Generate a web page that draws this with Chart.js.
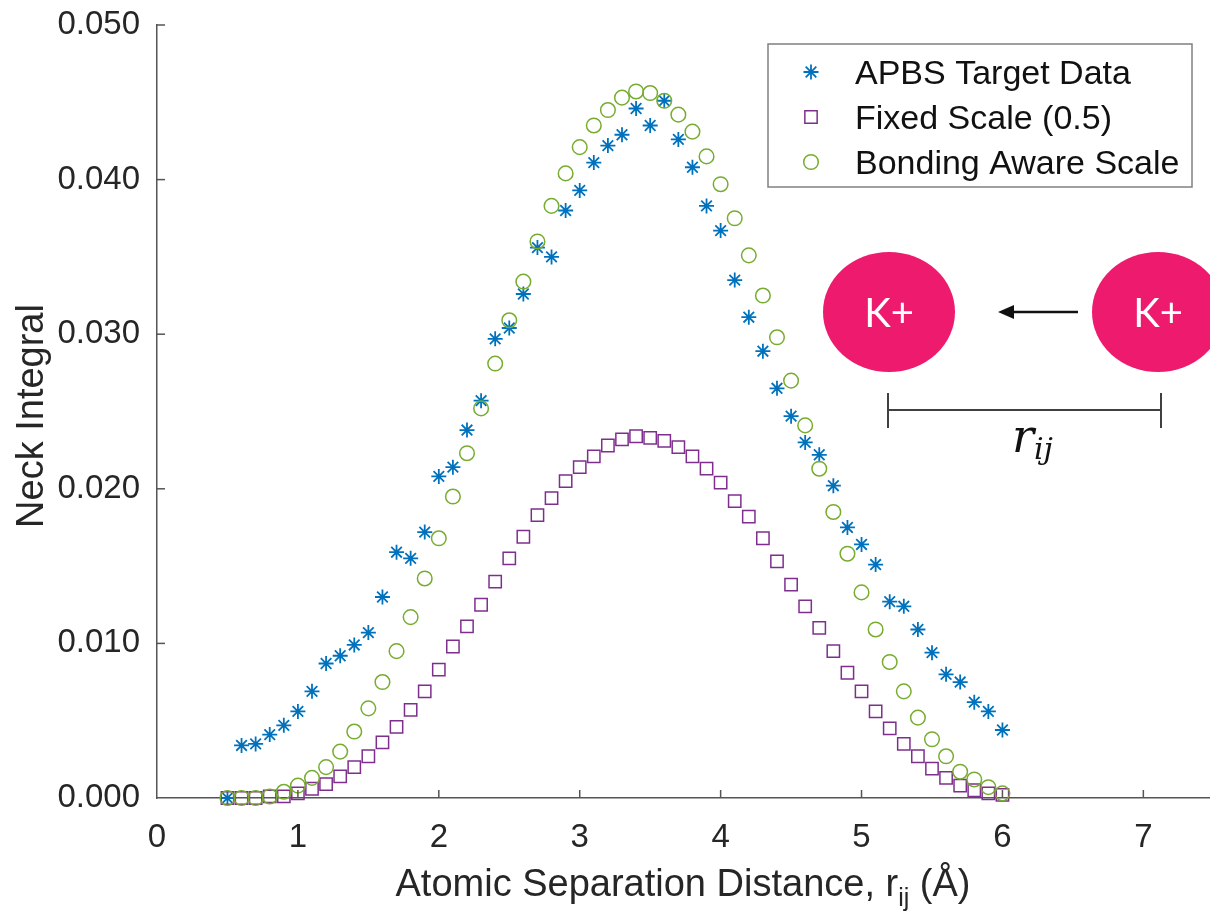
<!DOCTYPE html>
<html><head><meta charset="utf-8">
<script src="https://cdn.jsdelivr.net/npm/chart.js@4.4.1/dist/chart.umd.min.js"></script>
<style>html,body{margin:0;padding:0;overflow:hidden;background:#fff}#wrap{position:relative;width:1224px;height:919px}</style>
</head><body><div id="wrap"><canvas id="c" width="1224" height="919"></canvas></div>
<script>
// ---- data ----
const separation = [0.5,0.6,0.7,0.8,0.9,1.0,1.1,1.2,1.3,1.4,1.5,1.6,1.7,1.8,1.9,2.0,2.1,2.2,2.3,2.4,2.5,2.6,2.7,2.8,2.9,3.0,3.1,3.2,3.3,3.4,3.5,3.6,3.7,3.8,3.9,4.0,4.1,4.2,4.3,4.4,4.5,4.6,4.7,4.8,4.9,5.0,5.1,5.2,5.3,5.4,5.5,5.6,5.7,5.8,5.9,6.0];
const apbsTarget = [0.0000,0.0034,0.0035,0.0041,0.0047,0.0056,0.0069,0.0087,0.0092,0.0099,0.0107,0.0130,0.0159,0.0155,0.0172,0.0208,0.0214,0.0238,0.0257,0.0297,0.0304,0.0326,0.0356,0.0350,0.0380,0.0393,0.0411,0.0422,0.0429,0.0446,0.0435,0.0451,0.0426,0.0408,0.0383,0.0367,0.0335,0.0311,0.0289,0.0265,0.0247,0.0230,0.0222,0.0202,0.0175,0.0164,0.0151,0.0127,0.0124,0.0109,0.0094,0.0080,0.0075,0.0062,0.0056,0.0044];
const fixedScale = [0.0000,0.0000,0.0000,0.0001,0.0001,0.0003,0.0006,0.0009,0.0014,0.0020,0.0027,0.0036,0.0046,0.0057,0.0069,0.0083,0.0098,0.0111,0.0125,0.0140,0.0155,0.0169,0.0183,0.0194,0.0205,0.0214,0.0221,0.0228,0.0232,0.0234,0.0233,0.0231,0.0227,0.0221,0.0213,0.0204,0.0192,0.0182,0.0168,0.0153,0.0138,0.0124,0.0110,0.0095,0.0081,0.0069,0.0056,0.0045,0.0035,0.0027,0.0019,0.0013,0.0008,0.0005,0.0003,0.0002];
const bondingAware = [0.0000,0.0000,0.0000,0.0001,0.0004,0.0008,0.0013,0.0020,0.0030,0.0043,0.0058,0.0075,0.0095,0.0117,0.0142,0.0168,0.0195,0.0223,0.0252,0.0281,0.0309,0.0334,0.0360,0.0383,0.0404,0.0421,0.0435,0.0445,0.0453,0.0457,0.0456,0.0451,0.0442,0.0431,0.0415,0.0397,0.0375,0.0351,0.0325,0.0298,0.0270,0.0241,0.0213,0.0185,0.0158,0.0133,0.0109,0.0088,0.0069,0.0052,0.0038,0.0027,0.0017,0.0012,0.0007,0.0003];
const seriesNames = ['APBS Target Data','Fixed Scale (0.5)','Bonding Aware Scale'];
const xTickValues = [0,1,2,3,4,5,6,7];
const xTickLabels = ['0','1','2','3','4','5','6','7'];
const yTickValues = [0,0.01,0.02,0.03,0.04,0.05];
const yTickLabels = ['0.000','0.010','0.020','0.030','0.040','0.050'];
const xTitleMain = 'Atomic Separation Distance, r';
const xTitleSub = 'ij';
const xTitleEnd = ' (\u00C5)';
const yTitle = 'Neck Integral';
const ionLabel = 'K+';

const FONT = "'Liberation Sans', Arial, Helvetica, sans-serif";
const TXT = '#262626';
const AX = '#555555';

function pts(vals){ return separation.map((x,i)=>({x:x, y:vals[i]})); }

function marker(ctx, style, x, y, r, color, lw){
  ctx.save();
  ctx.strokeStyle = color; ctx.lineWidth = lw; ctx.beginPath();
  if (style === 'star'){
    ctx.moveTo(x-r,y); ctx.lineTo(x+r,y); ctx.moveTo(x,y-r); ctx.lineTo(x,y+r);
    const d = r*Math.SQRT1_2;
    ctx.moveTo(x-d,y-d); ctx.lineTo(x+d,y+d); ctx.moveTo(x-d,y+d); ctx.lineTo(x+d,y-d);
  } else if (style === 'rect'){
    const s = r*Math.SQRT1_2; ctx.rect(x-s,y-s,2*s,2*s);
  } else { ctx.arc(x,y,r,0,Math.PI*2); }
  ctx.stroke(); ctx.restore();
}

const extras = {
  id:'extras',
  afterDraw(chart){
    const ctx = chart.ctx, xs = chart.scales.x, ys = chart.scales.y, ca = chart.chartArea;
    ctx.save();
    // inward tick marks
    ctx.strokeStyle = AX; ctx.lineWidth = 1.5;
    xTickValues.forEach(v=>{ const p = xs.getPixelForValue(v); if (v===0) return; ctx.beginPath(); ctx.moveTo(p, ca.bottom); ctx.lineTo(p, ca.bottom-8); ctx.stroke(); });
    yTickValues.forEach(v=>{ const p = ys.getPixelForValue(v); if (v===0) return; ctx.beginPath(); ctx.moveTo(ca.left, p); ctx.lineTo(ca.left+8, p); ctx.stroke(); });

    // x title with subscript
    ctx.fillStyle = TXT; ctx.textBaseline = 'alphabetic'; ctx.textAlign = 'left';
    ctx.font = '38px ' + FONT; const w1 = ctx.measureText(xTitleMain).width; const w3 = ctx.measureText(xTitleEnd).width;
    ctx.font = '25px ' + FONT; const w2 = ctx.measureText(xTitleSub).width;
    let x0 = 683 - (w1+w2+w3)/2;
    ctx.font = '38px ' + FONT; ctx.fillText(xTitleMain, x0, 896);
    ctx.font = '25px ' + FONT; ctx.fillText(xTitleSub, x0+w1, 906);
    ctx.font = '38px ' + FONT; ctx.fillText(xTitleEnd, x0+w1+w2, 896);

    // y title
    ctx.save(); ctx.translate(43, 416); ctx.rotate(-Math.PI/2);
    ctx.textAlign = 'center'; ctx.font = '38px ' + FONT; ctx.fillText(yTitle, 0, 0); ctx.restore();

    // legend
    ctx.fillStyle = '#ffffff'; ctx.fillRect(768,44,424,143);
    ctx.strokeStyle = '#808080'; ctx.lineWidth = 1.5; ctx.strokeRect(768,44,424,143);
    const rows = [72,117,162];
    chart.data.datasets.forEach((ds,i)=>{
      marker(ctx, ds.pointStyle, 811, rows[i], ds.pointRadius, ds.borderColor, ds.borderWidth);
      ctx.fillStyle = '#111111'; ctx.font = '34px ' + FONT; ctx.textAlign='left'; ctx.textBaseline='alphabetic';
      ctx.fillText(ds.label, 855, rows[i]+12);
    });

    // diagram: two ions
    ctx.fillStyle = '#EE1A6E';
    [[889,312],[1158,312]].forEach(c=>{ ctx.beginPath(); ctx.ellipse(c[0],c[1],66,60,0,0,Math.PI*2); ctx.fill(); });
    ctx.fillStyle = '#ffffff'; ctx.font = "40px Lato, 'Open Sans', sans-serif"; ctx.textAlign='center'; ctx.textBaseline='middle';
    ctx.fillText(ionLabel, 889, 314); ctx.fillText(ionLabel, 1158, 314);
    // arrow
    ctx.strokeStyle = '#111111'; ctx.lineWidth = 2.5;
    ctx.beginPath(); ctx.moveTo(1078,312); ctx.lineTo(1010,312); ctx.stroke();
    ctx.fillStyle = '#111111'; ctx.beginPath(); ctx.moveTo(998,312); ctx.lineTo(1014,305); ctx.lineTo(1014,319); ctx.closePath(); ctx.fill();
    // bracket
    ctx.strokeStyle = '#404040'; ctx.lineWidth = 2;
    ctx.beginPath(); ctx.moveTo(888,410); ctx.lineTo(1161,410);
    ctx.moveTo(888,393); ctx.lineTo(888,428); ctx.moveTo(1161,393); ctx.lineTo(1161,428); ctx.stroke();
    // r_ij
    ctx.fillStyle = '#111111'; ctx.textAlign='left'; ctx.textBaseline='alphabetic';
    ctx.font = "italic 46px 'DejaVu Serif', serif"; ctx.fillText('r', 1012, 452);
    ctx.font = "italic 30px 'DejaVu Serif', serif"; ctx.fillText('ij', 1034, 459);
    ctx.restore();
  }
};

new Chart(document.getElementById('c'), {
  type:'scatter',
  data:{ datasets:[
    { label:seriesNames[0], data:pts(apbsTarget), pointStyle:'star', pointRadius:7.5, pointHoverRadius:7.5, borderColor:'#0072BD', backgroundColor:'rgba(0,0,0,0)', borderWidth:1.8, showLine:false, clip:false, order:3 },
    { label:seriesNames[1], data:pts(fixedScale), pointStyle:'rect', pointRadius:8.7, pointHoverRadius:8.7, borderColor:'#7E2F8E', backgroundColor:'rgba(0,0,0,0)', borderWidth:1.5, showLine:false, clip:false, order:2 },
    { label:seriesNames[2], data:pts(bondingAware), pointStyle:'circle', pointRadius:7.3, pointHoverRadius:7.3, borderColor:'#77AC30', backgroundColor:'rgba(0,0,0,0)', borderWidth:1.5, showLine:false, clip:false, order:1 }
  ]},
  options:{
    responsive:false, animation:false, devicePixelRatio:1,
    layout:{ padding:{ top:25, right:1.5, left:0, bottom:0 } },
    plugins:{ legend:{display:false}, tooltip:{enabled:false} },
    events:[],
    scales:{
      x:{ type:'linear', min:0, max:7.5,
        afterBuildTicks:s=>{ s.ticks = xTickValues.map(v=>({value:v})); },
        afterFit:s=>{ s.height = 121; s.paddingLeft = 0; s.paddingRight = 0; },
        ticks:{ font:{family:FONT, size:33}, color:TXT, padding:20, maxRotation:0, autoSkip:false,
          callback:(v)=>xTickLabels[xTickValues.indexOf(v)] },
        grid:{ display:false, drawTicks:false },
        border:{ display:true, color:AX, width:1.5 },
        title:{ display:false }
      },
      y:{ type:'linear', min:0, max:0.05,
        afterBuildTicks:s=>{ s.ticks = yTickValues.map(v=>({value:v})); },
        afterFit:s=>{ s.width = 157; s.paddingTop = 0; s.paddingBottom = 0; },
        ticks:{ font:{family:FONT, size:33}, color:TXT, padding:17, autoSkip:false,
          callback:(v)=>yTickLabels[yTickValues.indexOf(v)] },
        grid:{ display:false, drawTicks:false },
        border:{ display:true, color:AX, width:1.5 },
        title:{ display:false }
      }
    }
  },
  plugins:[extras]
});
</script></body></html>
